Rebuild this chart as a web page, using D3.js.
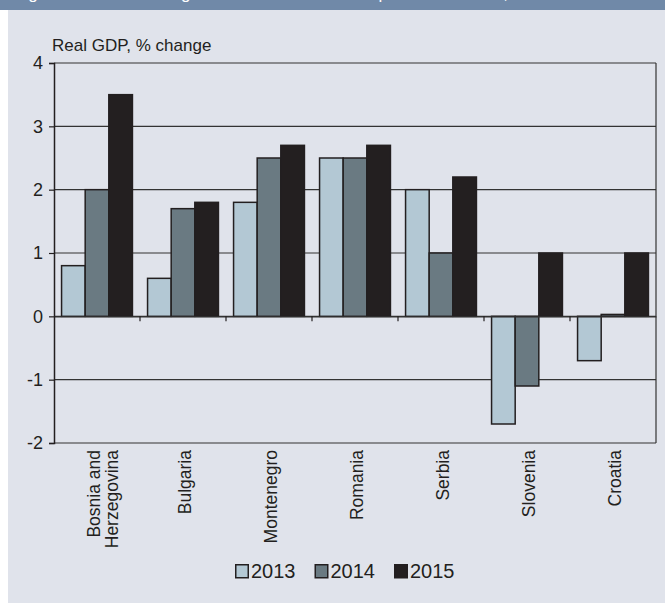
<!DOCTYPE html>
<html>
<head>
<meta charset="utf-8">
<script src="https://cdn.jsdelivr.net/npm/d3@7/dist/d3.min.js"></script>
<style>
  body { margin: 0; background: #fff; }
  text { font-family: "Liberation Sans", Arial, sans-serif; fill: #231f20; }
</style>
</head>
<body>
<svg width="665" height="603"></svg>
<script>

var countries = ["Bosnia and Herzegovina", "Bulgaria", "Montenegro", "Romania", "Serbia", "Slovenia", "Croatia"];
var years = ["2013", "2014", "2015"];
var v2013 = [0.8, 0.6, 1.8, 2.5, 2.0, -1.7, -0.7];
var v2014 = [2.0, 1.7, 2.5, 2.5, 1.0, -1.1, 0.03];
var v2015 = [3.5, 1.8, 2.7, 2.7, 2.2, 1.0, 1.0];
var yTicks = [4, 3, 2, 1, 0, -1, -2];

var series = [v2013, v2014, v2015];
var colors = ["#b3c8d4", "#6a7a82", "#231f20"];

var svg = d3.select("svg");

// panel background + header strip (title text is cut off at the top, as in the source)
svg.append("rect").attr("x", 8).attr("y", 0).attr("width", 657).attr("height", 603).attr("fill", "#e0e3eb");
svg.append("rect").attr("x", 0).attr("y", 0).attr("width", 665).attr("height", 10).attr("fill", "#7089a8");
svg.append("text")
    .attr("x", 14).attr("y", -1)
    .style("fill", "#fff")
    .attr("font-size", 17)
    .text("Figure 3.1. Real GDP growth in South East European economies, 2013-15");

var mLeft = 54, mRight = 656, mTop = 63, mBottom = 443;

var x = d3.scaleBand().domain(countries).range([mLeft, mRight]);
var x1 = d3.scaleBand().domain(years).range([0, x.bandwidth()]).paddingOuter(0.32);
var y = d3.scaleLinear().domain([-2, 4]).range([mBottom, mTop]);

// gridlines
svg.append("g").selectAll("line")
  .data(yTicks)
  .enter().append("line")
    .attr("x1", mLeft).attr("x2", mRight)
    .attr("y1", function(d) { return y(d); })
    .attr("y2", function(d) { return y(d); })
    .attr("stroke", "#333")
    .attr("stroke-width", 1.2);

// right border
svg.append("line")
    .attr("x1", mRight).attr("x2", mRight).attr("y1", mTop).attr("y2", mBottom)
    .attr("stroke", "#333").attr("stroke-width", 1.2);

// bars
var rows = [];
countries.forEach(function(c, i) {
  series.forEach(function(s, j) {
    rows.push({ c: c, yr: years[j], v: s[i], j: j });
  });
});

svg.append("g").selectAll("rect")
  .data(rows)
  .enter().append("rect")
    .attr("x", function(d) { return x(d.c) + x1(d.yr); })
    .attr("width", x1.bandwidth())
    .attr("y", function(d) { return y(Math.max(0, d.v)); })
    .attr("height", function(d) { return Math.abs(y(d.v) - y(0)); })
    .attr("fill", function(d) { return colors[d.j]; })
    .attr("stroke", "#231f20")
    .attr("stroke-width", 1.5);

// zero line with ticks between groups
var xAxis = d3.axisBottom(x).tickSize(0).tickFormat("");
var zg = svg.append("g").attr("transform", "translate(0," + y(0) + ")").call(xAxis);
zg.select(".domain").attr("stroke", "#333").attr("stroke-width", 1.2);
zg.selectAll(".cut")
  .data(countries.slice(1))
  .enter().append("line")
    .attr("x1", function(d) { return x(d); })
    .attr("x2", function(d) { return x(d); })
    .attr("y1", 0).attr("y2", 5)
    .attr("stroke", "#231f20").attr("stroke-width", 1.2);

// y axis
var yAxis = d3.axisLeft(y).tickValues(yTicks).tickSize(5).tickPadding(6)
    .tickFormat(function(d) { return String(d); });
var yg = svg.append("g").attr("transform", "translate(" + mLeft + ",0)").call(yAxis);
yg.select(".domain").attr("stroke", "#231f20").attr("stroke-width", 1.5);
yg.selectAll(".tick line").attr("stroke", "#231f20").attr("stroke-width", 1.2);
yg.selectAll(".tick text")
    .attr("font-size", 18)
    .attr("font-family", "Liberation Sans, Arial, sans-serif")
    .style("fill", "#231f20");

svg.append("text")
    .attr("x", 52).attr("y", 51)
    .attr("font-size", 17)
    .text("Real GDP, % change");

// category labels (rotated)
var labelLines = { "Bosnia and Herzegovina": ["Bosnia and", "Herzegovina"] };
var lineOffsets = { 1: [8], 2: [2.5, 20.5] };
var lg = svg.append("g").selectAll("g")
  .data(countries)
  .enter().append("g")
    .attr("transform", function(d) {
      return "translate(" + (x(d) + x.bandwidth() / 2) + "," + (mBottom + 7) + ") rotate(-90)";
    });
lg.each(function(d) {
  var lines = labelLines[d] || [d];
  var t = d3.select(this).append("text")
      .attr("text-anchor", "end")
      .attr("font-size", 17.5);
  lines.forEach(function(l, i) {
    t.append("tspan")
      .attr("x", 0)
      .attr("y", lineOffsets[lines.length][i])
      .text(l);
  });
});

// legend
var leg = svg.append("g").attr("transform", "translate(235,564)");
var item = leg.selectAll("g")
  .data(years)
  .enter().append("g")
    .attr("transform", function(d, i) { return "translate(" + (i * 79.5) + ",0)"; });
item.append("rect")
    .attr("x", 0.75).attr("y", 0.75)
    .attr("width", 12.5).attr("height", 13)
    .attr("fill", function(d, i) { return colors[i]; })
    .attr("stroke", "#231f20").attr("stroke-width", 1.5);
item.append("text")
    .attr("x", 16).attr("y", 14)
    .attr("font-size", 20)
    .text(function(d) { return d; });

</script>
</body>
</html>
